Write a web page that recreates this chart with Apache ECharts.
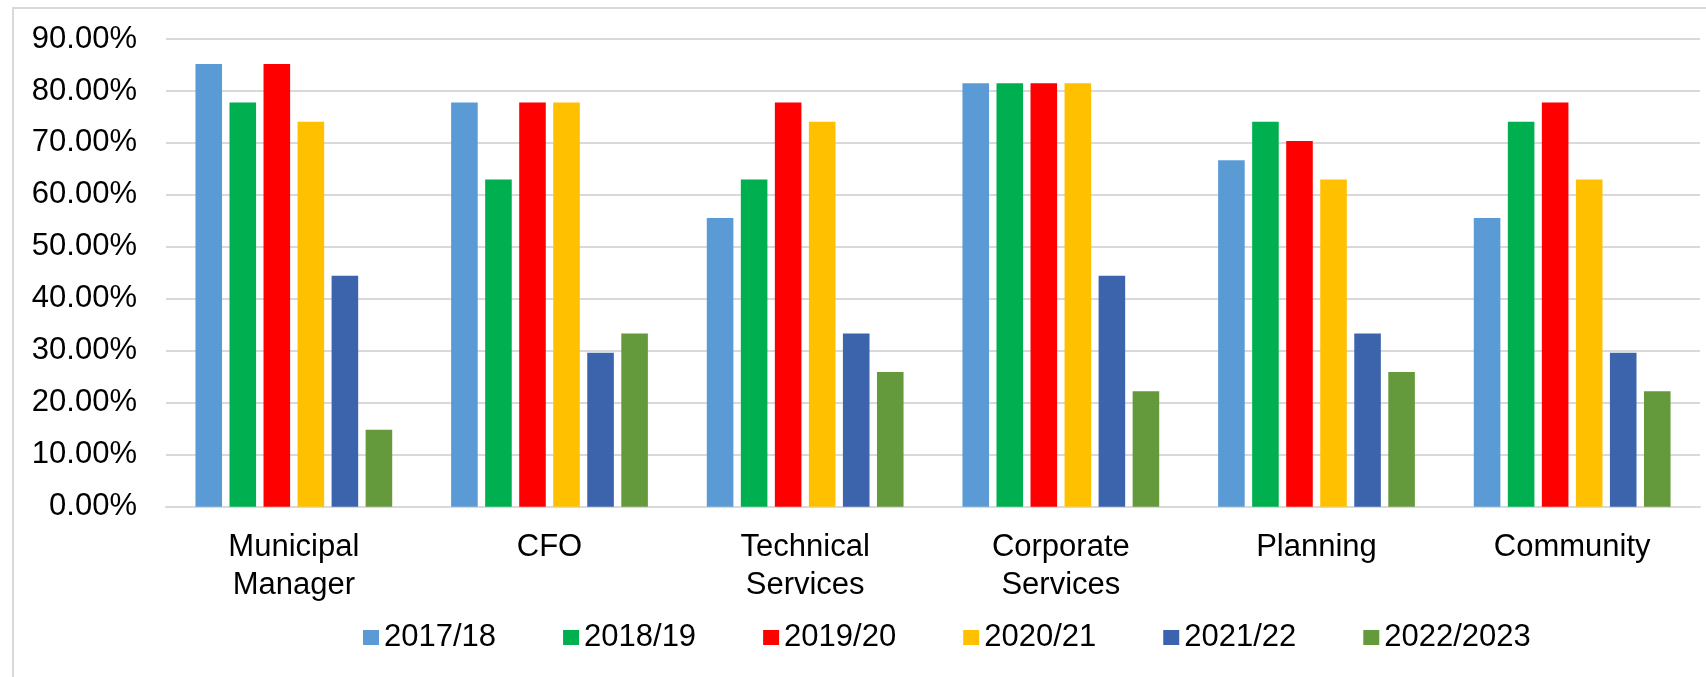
<!DOCTYPE html>
<html>
<head>
<meta charset="utf-8">
<script src="https://cdn.jsdelivr.net/npm/echarts@6/dist/echarts.min.js"></script>
<style>
  html, body { margin: 0; padding: 0; background: #fff; }
  #chart { width: 1706px; height: 677px; }
</style>
</head>
<body>
<div id="chart"></div>
<script>
// categories and years
const departments = ["Municipal\nManager", "CFO", "Technical\nServices", "Corporate\nServices", "Planning", "Community"];
const years = ["2017/18", "2018/19", "2019/20", "2020/21", "2021/22", "2022/2023"];

// values in percent, one array per year
const y2017 = [85.19, 77.78, 55.56, 81.48, 66.67, 55.56];
const y2018 = [77.78, 62.96, 62.96, 81.48, 74.07, 74.07];
const y2019 = [85.19, 77.78, 77.78, 81.48, 70.37, 77.78];
const y2020 = [74.07, 77.78, 74.07, 81.48, 62.96, 62.96];
const y2021 = [44.44, 29.63, 33.33, 44.44, 33.33, 29.63];
const y2022 = [14.81, 33.33, 25.93, 22.22, 25.93, 22.22];

// y axis ticks
const yTicks = [0, 10, 20, 30, 40, 50, 60, 70, 80, 90];

const colors = ["#5B9BD5", "#00B050", "#FF0000", "#FFC000", "#3C64AD", "#649A3C"];
const allValues = [y2017, y2018, y2019, y2020, y2021, y2022];

const font = "Liberation Sans, Arial, sans-serif";
const chart = echarts.init(document.getElementById("chart"));

chart.setOption({
  animation: false,
  color: colors,
  graphic: [{
    type: "rect",
    shape: { x: 13, y: 8, width: 1710, height: 690 },
    style: { fill: "none", stroke: "#d9d9d9", lineWidth: 2 },
    silent: true
  }],
  grid: { left: 166, right: 6, top: 39, bottom: 170.3 },
  legend: {
    data: years,
    left: 358,
    top: 617,
    icon: "rect",
    itemWidth: 16,
    itemHeight: 15,
    itemGap: 67,
    textStyle: { fontFamily: font, fontSize: 31, color: "#000", padding: [0, 0, 0, 0] }
  },
  xAxis: {
    type: "category",
    data: departments,
    axisTick: { show: false },
    axisLine: { lineStyle: { color: "#d9d9d9", width: 2 } },
    axisLabel: {
      interval: 0,
      margin: 22,
      fontFamily: font,
      fontSize: 31,
      lineHeight: 38,
      color: "#000"
    }
  },
  yAxis: {
    type: "value",
    min: yTicks[0],
    max: yTicks[yTicks.length - 1],
    interval: 10,
    axisLine: { show: false },
    axisTick: { show: false },
    splitLine: { lineStyle: { color: "#d9d9d9", width: 2 } },
    axisLabel: {
      margin: 29,
      fontFamily: font,
      fontSize: 31,
      color: "#000",
      formatter: v => v.toFixed(2) + "%"
    }
  },
  series: years.map((name, i) => ({
    name: name,
    type: "bar",
    data: allValues[i],
    barWidth: "10.4%",
    barGap: "28%"
  }))
});
</script>
</body>
</html>
